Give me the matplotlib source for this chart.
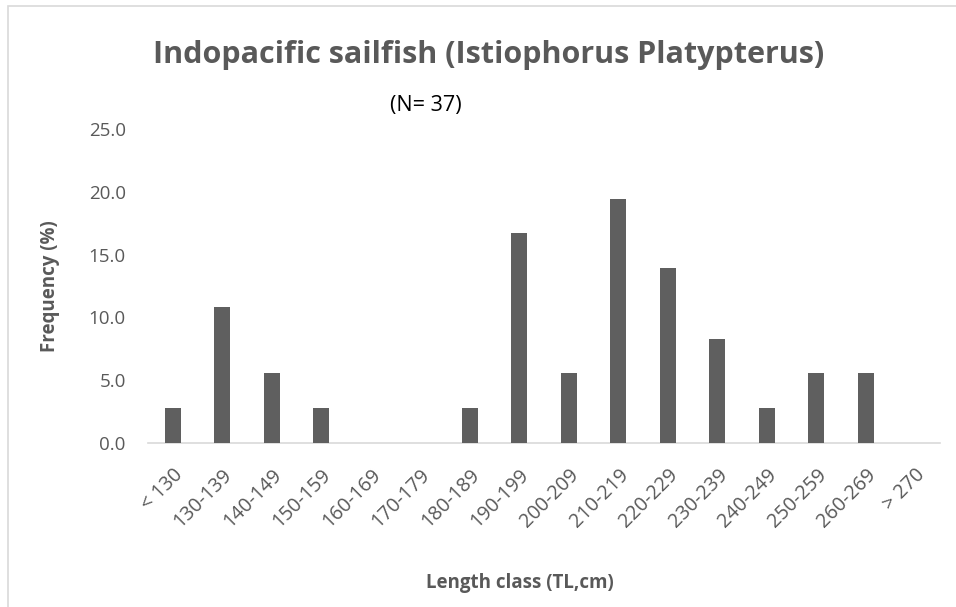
import matplotlib
matplotlib.use("Agg")
import matplotlib.pyplot as plt
from matplotlib.patches import Rectangle
from matplotlib.transforms import ScaledTranslation

categories = ["< 130", "130-139", "140-149", "150-159", "160-169", "170-179",
              "180-189", "190-199", "200-209", "210-219", "220-229", "230-239",
              "240-249", "250-259", "260-269", "> 270"]
frequency = [2.8, 10.8, 5.6, 2.8, 0.0, 0.0, 2.8, 16.7, 5.6, 19.4, 13.9, 8.3,
             2.8, 5.6, 5.6, 0.0]
yticks = [0.0, 5.0, 10.0, 15.0, 20.0, 25.0]

plt.rcParams['font.family'] = ['Open Sans', 'DejaVu Sans']
W, H = 956, 607
fig = plt.figure(figsize=(W/100, H/100), dpi=100)

ax = fig.add_axes([148/W, 1-443/H, (940-148)/W, (443-129)/H])
x = list(range(len(categories)))
ax.bar(x, frequency, width=0.32, color='#5f5f5f', edgecolor='#5f5f5f', linewidth=0, zorder=3)
ax.set_xlim(-0.5, len(categories)-0.5)
ax.set_ylim(0, 25)
ax.set_yticks(yticks)
ax.set_yticklabels([f"{v:.1f}" for v in yticks], fontsize=13.5, color='#595959')
ax.set_xticks(x)
ax.set_xticklabels(categories, rotation=45, ha='right', va='top', rotation_mode='anchor',
                   fontsize=14.2, color='#595959')
offset = ScaledTranslation(-9/100, 0, fig.dpi_scale_trans)
for lab in ax.get_xticklabels():
    lab.set_transform(lab.get_transform() + offset)
for s in ['top', 'right', 'left']:
    ax.spines[s].set_visible(False)
ax.spines['bottom'].set_color('#d9d9d9')
ax.spines['bottom'].set_linewidth(1.2)
ax.tick_params(axis='both', length=0)
ax.tick_params(axis='x', pad=16)
ax.tick_params(axis='y', pad=16)

ax.set_ylabel("Frequency (%)", fontsize=13.5, fontweight='bold', color='#595959', labelpad=6)
ax.yaxis.set_label_coords(60/W, 1-286/H, transform=fig.transFigure)

fig.text(489/W, 1-55/H, "Indopacific sailfish (Istiophorus Platypterus)", ha='center', va='center',
         fontsize=22, fontweight='bold', color='#595959')
fig.text(426/W, 1-105/H, "(N= 37)", ha='center', va='center', fontsize=15.5, color='black')
fig.text(520/W, 1-583/H, "Length class (TL,cm)", ha='center', va='center',
         fontsize=13.5, fontweight='bold', color='#595959')

fig.patches.append(Rectangle((8/W, -0.01), 1.0, 1-6/H+0.01, transform=fig.transFigure,
                             fill=False, edgecolor='#d9d9d9', linewidth=1.2))

fig.savefig("out.png", dpi=100)
